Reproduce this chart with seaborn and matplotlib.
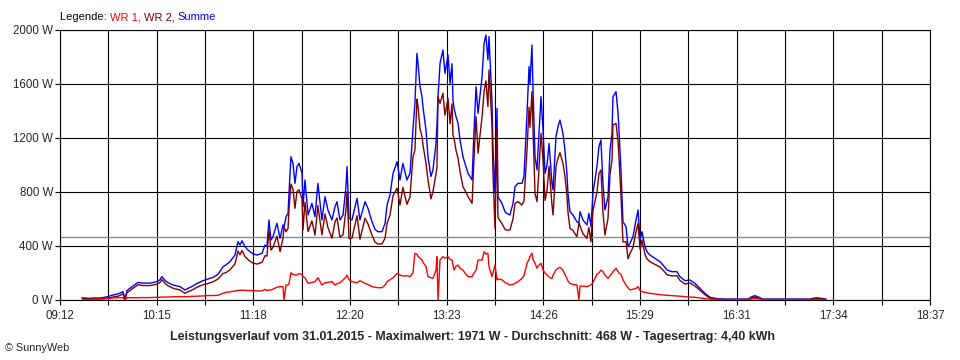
import numpy as np
import pandas as pd
import matplotlib
matplotlib.use("Agg")
import matplotlib.pyplot as plt
import seaborn as sns

# ---- data (clock time in minutes after midnight, power in W) ----
time_min = [566.3, 570.2, 574.7, 578.0, 581.9, 586.4, 589.7, 592.9, 594.2, 595.5,
            598.8, 602.7, 605.9, 610.4, 615.0, 616.9, 618.2, 620.2, 622.1, 625.4,
            629.9, 633.2, 635.1, 637.7, 641.0, 644.9, 648.1, 651.4, 654.6, 657.9,
            659.8, 662.4, 665.6, 667.6, 668.9, 670.2, 672.1, 674.1, 676.7, 679.9,
            683.2, 685.1, 686.4, 687.7, 689.0, 690.3, 692.9, 694.9, 696.8, 697.5,
            698.8, 700.1, 700.7, 702.0, 703.3, 704.6, 705.9, 707.2, 709.2, 709.8,
            711.1, 713.1, 715.6, 717.6, 719.5, 722.1, 724.1, 726.0, 728.6, 730.6,
            731.9, 733.8, 735.8, 737.7, 738.4, 739.7, 741.6, 744.9, 746.8, 750.1,
            752.0, 754.6, 756.6, 758.5, 761.1, 763.1, 764.4, 766.3, 768.3, 770.9,
            772.8, 774.7, 777.3, 779.3, 781.2, 782.5, 783.8, 784.5, 785.8, 787.1,
            787.7, 789.7, 791.0, 792.9, 794.2, 796.2, 796.8, 797.5, 798.8, 800.7,
            802.0, 804.0, 805.3, 806.6, 807.2, 807.9, 809.2, 810.5, 811.8, 813.7,
            815.0, 817.0, 819.6, 820.9, 822.2, 823.5, 826.1, 827.4, 828.6, 829.9,
            830.6, 832.5, 833.2, 834.5, 835.8, 836.4, 839.0, 841.0, 842.3, 844.2,
            846.2, 847.5, 849.4, 852.0, 853.3, 855.3, 856.6, 857.2, 858.5, 859.2,
            860.5, 861.8, 862.4, 864.4, 865.7, 867.0, 868.3, 869.6, 871.5, 872.2,
            874.1, 875.4, 876.7, 878.6, 879.9, 881.2, 881.9, 883.2, 885.1, 887.7,
            889.0, 889.7, 891.6, 894.2, 895.5, 896.8, 898.1, 900.7, 902.0, 903.3,
            904.6, 905.9, 907.9, 909.2, 910.5, 911.1, 913.1, 914.4, 915.0, 916.3,
            917.6, 919.6, 920.9, 922.2, 924.1, 926.1, 927.4, 928.7, 930.0, 930.6,
            931.9, 933.2, 935.1, 938.4, 941.6, 943.6, 946.2, 949.4, 952.7, 954.6,
            957.9, 961.1, 964.4, 967.6, 970.9, 974.1, 978.7, 983.9, 993.6, 998.8,
            1001.4, 1003.3, 1006.6, 1008.5, 1026.1, 1037.8, 1039.1, 1042.3, 1044.3, 1049.4]

wr1 = [0, 3, 5, 7, 10, 15, 17, 17, 0, 17,
       17, 17, 18, 18, 20, 20, 22, 22, 22, 24,
       25, 25, 25, 27, 28, 30, 33, 33, 35, 50,
       57, 60, 67, 70, 72, 72, 72, 70, 70, 67,
       67, 79, 70, 74, 74, 80, 95, 99, 99, 0,
       111, 111, 120, 202, 190, 185, 185, 195, 190, 173,
       165, 123, 130, 136, 165, 111, 128, 130, 136, 111,
       120, 128, 148, 170, 185, 150, 136, 128, 143, 123,
       115, 99, 95, 91, 91, 110, 136, 150, 165, 197,
       185, 178, 180, 173, 200, 346, 340, 321, 310, 296,
       280, 247, 173, 165, 160, 222, 321, 0, 296, 321,
       310, 321, 300, 296, 260, 222, 250, 259, 235, 222,
       200, 173, 173, 200, 222, 296, 296, 358, 340, 346,
       247, 173, 200, 259, 148, 155, 150, 130, 123, 111,
       115, 123, 135, 160, 180, 272, 300, 321, 346, 300,
       272, 235, 250, 272, 222, 200, 185, 170, 160, 185,
       222, 235, 242, 222, 190, 160, 140, 123, 115, 111,
       0, 104, 102, 99, 105, 111, 130, 190, 200, 222,
       210, 185, 160, 180, 197, 210, 235, 210, 200, 190,
       150, 111, 90, 74, 80, 86, 99, 70, 62, 60,
       57, 54, 49, 45, 40, 37, 35, 32, 30, 28,
       25, 22, 20, 15, 10, 7, 5, 3, 3, 3,
       8, 10, 8, 3, 3, 3, 3, 3, 3, 2]

wr2 = [15, 9, 10, 8, 12, 22, 28, 45, 5, 53,
       82, 113, 107, 107, 116, 130, 151, 123, 106, 87,
       74, 49, 61, 73, 95, 113, 122, 135, 155, 197,
       203, 224, 266, 362, 335, 367, 323, 300, 276, 266,
       279, 328, 325, 519, 370, 389, 473, 358, 457, 540,
       506, 531, 670, 859, 822, 679, 803, 817, 748, 518,
       724, 507, 586, 481, 699, 482, 637, 537, 457, 580,
       608, 465, 482, 669, 803, 455, 457, 625, 450, 605,
       564, 481, 428, 415, 415, 458, 568, 628, 773, 828,
       704, 834, 709, 765, 1059, 1111, 1487, 1432, 1270, 1210,
       1152, 1012, 888, 749, 803, 938, 979, 1506, 1457, 1531,
       1369, 1494, 1305, 1454, 1221, 1198, 1108, 1050, 950, 839,
       812, 765, 716, 1059, 1358, 1087, 1358, 1543, 1623, 1432,
       1704, 1308, 936, 531, 1272, 610, 566, 524, 517, 519,
       601, 716, 729, 704, 734, 1111, 1428, 1279, 1543, 1255,
       789, 728, 850, 1234, 1037, 738, 815, 990, 704, 630,
       988, 1049, 1091, 1013, 921, 778, 650, 531, 515, 469,
       570, 550, 491, 457, 537, 432, 660, 798, 936, 963,
       654, 482, 605, 931, 1038, 1296, 1308, 1173, 1059, 773,
       430, 432, 305, 346, 389, 507, 568, 374, 444, 409,
       338, 304, 284, 264, 244, 222, 187, 178, 180, 145,
       118, 126, 103, 71, 39, 13, 5, 4, 4, 4,
       17, 22, 9, 4, 4, 4, 4, 12, 12, 4]

summe = [15, 12, 15, 15, 22, 37, 45, 62, 5, 70,
         99, 130, 125, 125, 136, 150, 173, 145, 128, 111,
         99, 74, 86, 100, 123, 143, 155, 168, 190, 247,
         260, 284, 333, 432, 407, 439, 395, 370, 346, 333,
         346, 407, 395, 593, 444, 469, 568, 457, 556, 540,
         617, 642, 790, 1061, 1012, 864, 988, 1012, 938, 691,
         889, 630, 716, 617, 864, 593, 765, 667, 593, 691,
         728, 593, 630, 839, 988, 605, 593, 753, 593, 728,
         679, 580, 523, 506, 506, 568, 704, 778, 938, 1025,
         889, 1012, 889, 938, 1259, 1457, 1827, 1753, 1580, 1506,
         1432, 1259, 1061, 914, 963, 1160, 1300, 1506, 1753, 1852,
         1679, 1815, 1605, 1750, 1481, 1420, 1358, 1309, 1185, 1061,
         1012, 938, 889, 1259, 1580, 1383, 1654, 1901, 1963, 1778,
         1951, 1481, 1136, 790, 1420, 765, 716, 654, 640, 630,
         716, 839, 864, 864, 914, 1383, 1728, 1600, 1889, 1555,
         1061, 963, 1100, 1506, 1259, 938, 1000, 1160, 864, 815,
         1210, 1284, 1333, 1235, 1111, 938, 790, 654, 630, 580,
         570, 654, 593, 556, 642, 543, 790, 988, 1136, 1185,
         864, 667, 765, 1111, 1235, 1506, 1543, 1383, 1259, 963,
         580, 543, 395, 420, 469, 593, 667, 444, 506, 469,
         395, 358, 333, 309, 284, 259, 222, 210, 210, 173,
         143, 148, 123, 86, 49, 20, 10, 7, 7, 7,
         25, 32, 17, 7, 7, 7, 7, 15, 15, 7]

series_names = ["WR 1", "WR 2", "Summe"]
series_colors = ["#FF0000", "#800000", "#0000FF"]
y_ticks = [0, 400, 800, 1200, 1600, 2000]
y_labels = ["0 W", "400 W", "800 W", "1200 W", "1600 W", "2000 W"]
x_labels = ["09:12", "10:15", "11:18", "12:20", "13:23", "14:26", "15:29", "16:31", "17:34", "18:37"]
x_start, x_end = 552, 1117  # 09:12 .. 18:37
average_w = 468
title = ("Leistungsverlauf vom 31.01.2015 - Maximalwert: 1971 W - "
         "Durchschnitt: 468 W - Tagesertrag: 4,40 kWh")

# ---- build long-form frame ----
df = pd.concat([
    pd.DataFrame({"t": time_min, "W": wr1, "Serie": "WR 1"}),
    pd.DataFrame({"t": time_min, "W": wr2, "Serie": "WR 2"}),
    pd.DataFrame({"t": time_min, "W": summe, "Serie": "Summe"}),
], ignore_index=True)

sns.set_style("white")
plt.rcParams["font.family"] = ["Liberation Sans", "DejaVu Sans"]

fig = plt.figure(figsize=(9.6, 3.6), dpi=100)
fig.patch.set_facecolor("white")
ax = fig.add_axes([60 / 960, 60 / 360, 870 / 960, 270 / 360])

palette = dict(zip(series_names, series_colors))
sns.lineplot(data=df, x="t", y="W", hue="Serie", hue_order=["Summe", "WR 2", "WR 1"],
             palette=palette, estimator=None, sort=False, legend=False,
             linewidth=1.0, ax=ax, zorder=3)

ax.axhline(average_w, color="#8C8C8C", lw=1.0, zorder=2.5)

ax.set_xlim(x_start, x_end)
ax.set_ylim(0, 2000)
n_int = 18
grid_x = [x_start + k * (x_end - x_start) / n_int for k in range(n_int + 1)]
ax.set_xticks(grid_x)
ax.set_xticklabels([x_labels[k // 2] if k % 2 == 0 else "" for k in range(n_int + 1)])
ax.set_yticks(y_ticks)
ax.set_yticklabels(y_labels)
ax.grid(True, color="black", lw=0.8, zorder=1)
ax.set_axisbelow(True)
for s in ax.spines.values():
    s.set_color("black")
    s.set_linewidth(0.8)
ax.tick_params(axis="both", direction="out", length=3.5, width=0.8, color="black",
               labelsize=8.3, bottom=True, left=True)
ax.tick_params(axis="x", pad=4)
ax.tick_params(axis="y", pad=1.5)
ax.set_xlabel("")
ax.set_ylabel("")

# legend line at top
t0 = fig.text(60 / 960, 1 - 17 / 360, "Legende: ", fontsize=8.0, color="black", va="center", ha="left")
prev = t0
for txt, col in [("WR 1, ", "#FF0000"), ("WR 2, ", "#800000"), ("Summe", "#0000FF")]:
    prev = ax.annotate(txt, xy=(1, 0), xycoords=prev, va="bottom", ha="left",
                       fontsize=8.0, color=col)

fig.text(472 / 960, 1 - 337 / 360, title, fontsize=8.9, fontweight="bold",
         ha="center", va="center")
fig.text(5 / 960, 1 - 348 / 360, "© SunnyWeb", fontsize=7.8, ha="left", va="center")

fig.savefig("out.png", dpi=100, facecolor="white")
